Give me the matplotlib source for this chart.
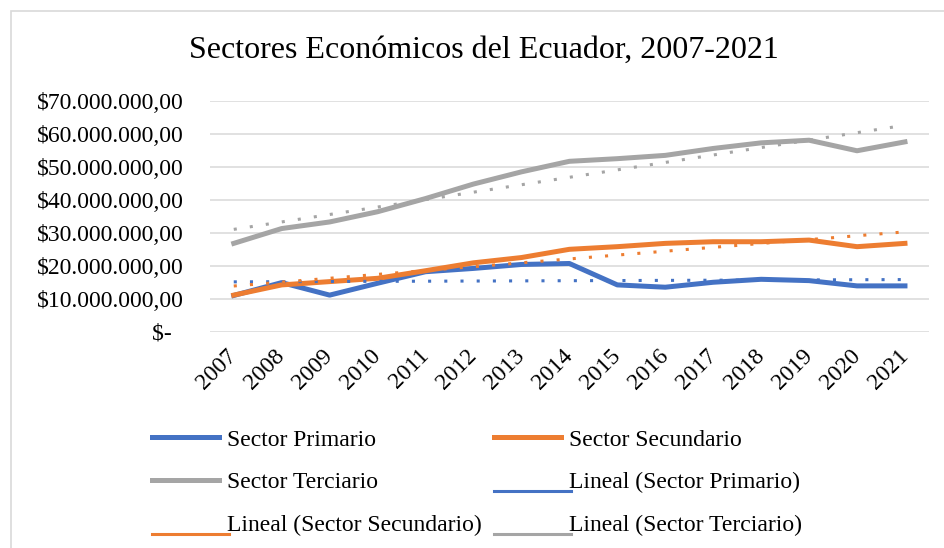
import numpy as np
import matplotlib.pyplot as plt
from matplotlib.lines import Line2D
from matplotlib.patches import Rectangle
from matplotlib.ticker import FuncFormatter, MultipleLocator
from matplotlib.legend_handler import HandlerLine2D

plt.rcParams["font.family"] = ["Liberation Serif", "DejaVu Serif"]

years = ["2007", "2008", "2009", "2010", "2011", "2012", "2013", "2014",
         "2015", "2016", "2017", "2018", "2019", "2020", "2021"]

# valor agregado por sector (USD)
primario = [11.0e6, 14.9e6, 11.1e6, 14.7e6, 18.2e6, 19.2e6, 20.4e6, 20.7e6,
            14.2e6, 13.5e6, 15.0e6, 15.9e6, 15.5e6, 13.9e6, 13.9e6]
secundario = [11.1e6, 14.2e6, 15.2e6, 16.2e6, 18.5e6, 20.9e6, 22.5e6, 25.0e6,
              25.8e6, 26.8e6, 27.3e6, 27.3e6, 27.8e6, 25.8e6, 26.8e6]
terciario = [26.8e6, 31.3e6, 33.3e6, 36.4e6, 40.4e6, 44.8e6, 48.5e6, 51.7e6,
             52.5e6, 53.5e6, 55.6e6, 57.3e6, 58.1e6, 54.9e6, 57.6e6]

labels = ["Sector Primario", "Sector Secundario", "Sector Terciario"]
colors = ["#4472C4", "#ED7D31", "#A5A5A5"]


def money(v, pos):
    if v == 0:
        return "$-  "
    s = f"{v:,.2f}"
    s = s.replace(",", "X").replace(".", ",").replace("X", ".")
    return "$" + s


class LowLineHandler(HandlerLine2D):
    # trend entries sit on the text baseline
    def create_artists(self, legend, orig_handle, xdescent, ydescent,
                       width, height, fontsize, trans):
        arts = super().create_artists(legend, orig_handle, xdescent, ydescent,
                                      width, height, fontsize, trans)
        y0 = -ydescent - 0.15 * height
        for a in arts:
            a.set_data([-xdescent, -xdescent + width + 0.4 * fontsize], [y0, y0])
            a.set_marker("None")
        return arts


fig = plt.figure(figsize=(9.45, 5.48), dpi=100)
ax = fig.add_axes([0.222, 0.3947, 0.761, 0.421])

x = np.arange(len(years))
series = [primario, secundario, terciario]

for vals, lab, c in zip(series, labels, colors):
    ax.plot(x, vals, color=c, lw=3.6, label=lab, solid_joinstyle="round", zorder=3)

trend_handles = []
for vals, lab, c in zip(series, labels, colors):
    m, b = np.polyfit(x, vals, 1)
    ax.plot(x, m * x + b, color=c, lw=2.2, dashes=(1, 4.3),
            dash_capstyle="butt", zorder=4)
    trend_handles.append(Line2D([], [], color=c, lw=2.2,
                                label=f"Lineal ({lab})"))

ax.set_xlim(-0.5, len(years) - 0.5)
ax.set_ylim(0, 70e6)
ax.yaxis.set_major_locator(MultipleLocator(10e6))
ax.yaxis.set_major_formatter(FuncFormatter(money))
ax.set_xticks(x)
ax.set_xticklabels(years, rotation=45, ha="right", va="center",
                   rotation_mode="anchor")
ax.tick_params(axis="y", length=0, pad=19, labelsize=17)
ax.tick_params(axis="x", length=0, pad=15, labelsize=17)
ax.grid(axis="y", color="#D9D9D9", lw=1.1)
ax.set_axisbelow(True)
for spine in ax.spines.values():
    spine.set_visible(False)

fig.text(0.512, 0.909, "Sectores Económicos del Ecuador, 2007-2021",
         ha="center", va="center", fontsize=23)

# legend filled column by column, so entries read row-wise
lines = ax.get_lines()
handles = [lines[0], lines[2], trend_handles[1],
           lines[1], trend_handles[0], trend_handles[2]]
hmap = {h: LowLineHandler() for h in trend_handles}
fig.legend(handles=handles, loc="upper left",
           bbox_to_anchor=(0.1608, 0.217), ncol=2, frameon=False,
           fontsize=17, handlelength=2.85, handletextpad=0.34,
           columnspacing=0.5, labelspacing=0.9, borderpad=0,
           borderaxespad=0, handler_map=hmap)

# chart area border
fig.patches.append(Rectangle((11 / 945, -0.05), 1.1, 1 - 11 / 548 + 0.05,
                             transform=fig.transFigure, fill=False,
                             ec="#D9D9D9", lw=1.2))

fig.savefig("out.png", dpi=100)
